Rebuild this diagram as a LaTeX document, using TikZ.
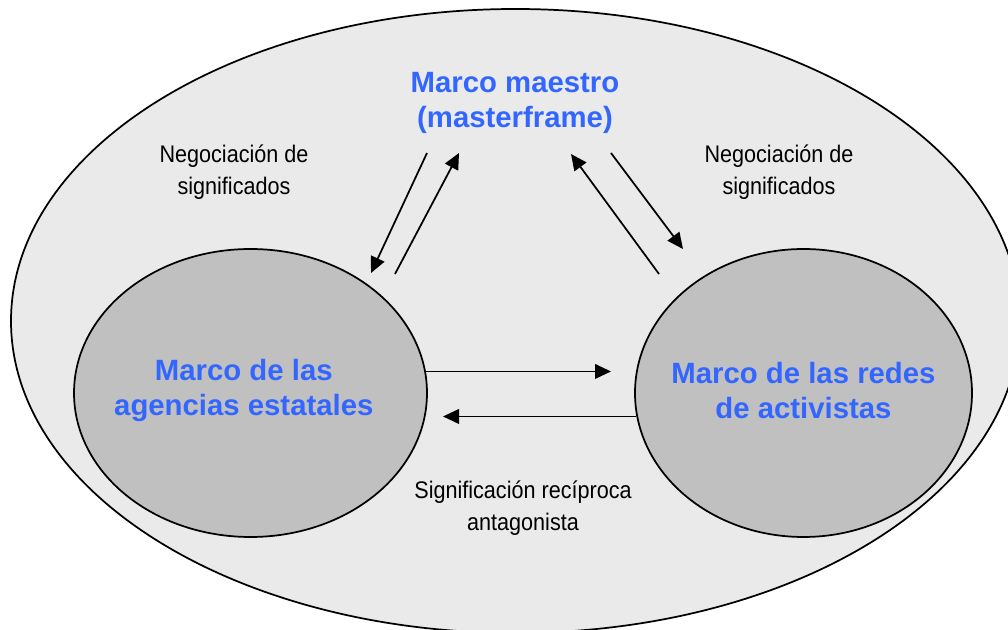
\documentclass[tikz,border=0pt]{standalone}
\usepackage{fontspec}
\setmainfont{Liberation Sans}
\newfontfamily\narrowfont[FakeStretch=0.9]{Liberation Sans}
\usetikzlibrary{arrows.meta, shapes, positioning}
\definecolor{outergray}{HTML}{EAEAEA}
\definecolor{innergray}{HTML}{C0C0C0}
\definecolor{frameblue}{HTML}{3366FF}

\begin{document}
\begin{tikzpicture}[x=0.75pt, y=-0.75pt, line width=1.3pt,
                    frame node/.style= {ellipse,
                      fill=innergray,
                      draw,
                      inner sep=0pt,
                      minimum height=216pt},
                    frame text/.style= {text=frameblue,
                      align=center,
                      font=\fontsize{22}{26.5}\selectfont\bfseries},
                    note/.style= {align=center,
                      font=\narrowfont\fontsize{18}{23.5}\selectfont},
                    link/.style= {-{Triangle[length=12pt,width=11pt]}}]

  \useasboundingbox (0,0) rectangle (1008,630);
  \draw[fill=outergray] (515.5,321) ellipse [x radius=504.5, y radius=312];

  % the two frames
  \node[frame node, minimum width=264.75pt,
        label={[frame text, xshift=-5pt, yshift=2pt]center:{Marco de las\\agencias estatales}}]
        (agencias) at (250.5,393) {};
  \node[frame node, minimum width=252.75pt,
        label={[frame text, yshift=2pt]center:{Marco de las redes\\de activistas}}]
        (redes) at (803.5,393) {};

  \node[frame text] (maestro) at (515,103) {Marco maestro\\(masterframe)};

  \node[note] (negIzq) at (234,172) {Negociación de\\significados};
  \node[note] (negDer) at (779,172) {Negociación de\\significados};
  \node[note] (antag) at (523,508) {Significación recíproca\\antagonista};

  % free ends of the connectors
  \coordinate (m1) at (427,153);
  \coordinate (a1) at (371,273);
  \coordinate (a2) at (395,274);
  \coordinate (m2) at (459,153);
  \coordinate (r3) at (659,274);
  \coordinate (m3) at (571,154);
  \coordinate (m4) at (611,153);
  \coordinate (r4) at (683,249);
  \coordinate (toRedes) at (611,370);
  \coordinate (toAgencias) at (443,417);

  \path
    (m1) edge[link] (a1)
    (a2) edge[link] (m2)
    (r3) edge[link] (m3)
    (m4) edge[link] (r4)
    (agencias.7.5) edge[link] (agencias.7.5 -| toRedes)
    (redes.188.2) edge[link] (redes.188.2 -| toAgencias);
\end{tikzpicture}
\end{document}
